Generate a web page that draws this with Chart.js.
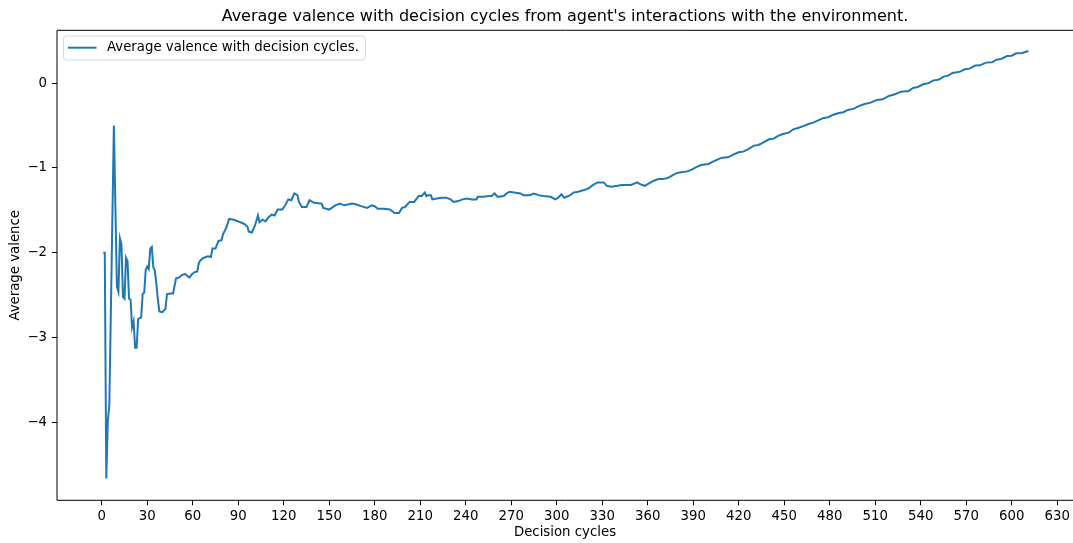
<!DOCTYPE html>
<html>
<head>
<meta charset="utf-8">
<title>Average valence with decision cycles</title>
<script src="https://cdn.jsdelivr.net/npm/chart.js@4.4.1/dist/chart.umd.min.js"></script>
<style>
  html, body { margin: 0; padding: 0; background: #ffffff; }
  #wrap { position: relative; width: 1073px; height: 543px; }
</style>
</head>
<body>
<div id="wrap"><canvas id="chart" width="1073" height="543"></canvas></div>
<script>
// Decision cycle numbers and the running average valence at each of them
const cycles = [
  1, 2, 3, 4, 5, 6, 7, 8, 9, 10, 11, 12, 13, 14, 15, 16, 17, 18, 19, 20,
  21, 22, 23, 24, 25, 26, 27, 28, 29, 30, 31, 32, 33, 34, 35, 36, 37, 38, 40, 42,
  43, 45, 47, 49, 51, 53, 55, 57, 58, 59, 61, 63, 64, 65, 67, 70, 72, 73, 75, 77,
  79, 80, 82, 84, 87, 90, 94, 96, 97, 99, 101, 103, 104, 106, 108, 110, 112, 114, 116, 119,
  121, 123, 125, 127, 129, 130, 132, 135, 137, 140, 145, 146, 150, 154, 157, 160, 165, 168, 171, 175,
  178, 180, 182, 186, 190, 193, 196, 198, 200, 203, 206, 209, 211, 213, 214, 215, 217, 218, 221, 224,
  227, 230, 232, 235, 238, 241, 244, 247, 248, 252, 255, 257, 259, 261, 265, 267, 269, 272, 276, 278,
  282, 285, 288, 291, 296, 299, 301, 303, 305, 309, 311, 314, 318, 321, 324, 327, 331, 333, 336, 340,
  343, 346, 349, 353, 355, 358, 360, 364, 367, 370, 373, 376, 379, 382, 386, 389, 392, 395, 400, 403,
  407, 409, 413, 416, 420, 423, 426, 430, 433, 436, 440, 443, 446, 449, 453, 456, 459, 463, 466, 469,
  472, 476, 479, 482, 486, 489, 492, 496, 499, 503, 507, 511, 515, 519, 523, 527, 532, 535, 538, 542,
  545, 548, 552, 555, 558, 561, 566, 569, 572, 576, 579, 583, 587, 590, 593, 597, 600, 603, 607, 611
];
const valence = [
  -2.00, -2.00, -4.66, -3.98, -3.80, -2.70, -1.60, -0.50, -1.45, -2.40, -2.46, -1.83, -1.90, -2.52, -2.54, -2.06, -2.10, -2.54, -2.55, -2.88,
  -2.81, -3.12, -3.12, -2.78, -2.77, -2.76, -2.48, -2.47, -2.20, -2.16, -2.19, -1.95, -1.93, -2.17, -2.21, -2.36, -2.55, -2.69, -2.70, -2.66,
  -2.49, -2.48, -2.48, -2.30, -2.29, -2.26, -2.25, -2.28, -2.29, -2.26, -2.23, -2.22, -2.12, -2.09, -2.06, -2.04, -2.05, -1.95, -1.95, -1.86,
  -1.85, -1.78, -1.71, -1.60, -1.61, -1.63, -1.66, -1.69, -1.75, -1.76, -1.68, -1.56, -1.64, -1.61, -1.63, -1.58, -1.55, -1.56, -1.49, -1.49,
  -1.44, -1.37, -1.38, -1.30, -1.32, -1.40, -1.46, -1.46, -1.38, -1.41, -1.42, -1.47, -1.49, -1.44, -1.42, -1.44, -1.42, -1.43, -1.45, -1.47,
  -1.44, -1.45, -1.48, -1.48, -1.49, -1.53, -1.53, -1.47, -1.46, -1.40, -1.40, -1.33, -1.33, -1.29, -1.33, -1.32, -1.32, -1.37, -1.36, -1.35,
  -1.35, -1.37, -1.40, -1.39, -1.37, -1.36, -1.37, -1.37, -1.34, -1.34, -1.33, -1.33, -1.30, -1.34, -1.33, -1.30, -1.28, -1.29, -1.30, -1.32,
  -1.32, -1.30, -1.32, -1.33, -1.34, -1.37, -1.35, -1.31, -1.35, -1.32, -1.29, -1.28, -1.26, -1.24, -1.20, -1.17, -1.17, -1.21, -1.22, -1.21,
  -1.20, -1.20, -1.20, -1.17, -1.19, -1.21, -1.19, -1.15, -1.13, -1.13, -1.12, -1.09, -1.06, -1.05, -1.04, -1.02, -0.99, -0.965, -0.952, -0.925,
  -0.893, -0.878, -0.874, -0.846, -0.815, -0.807, -0.780, -0.736, -0.728, -0.701, -0.662, -0.654, -0.622, -0.599, -0.583, -0.544, -0.528, -0.504, -0.481, -0.465,
  -0.442, -0.410, -0.402, -0.375, -0.351, -0.343, -0.316, -0.300, -0.270, -0.245, -0.230, -0.198, -0.190, -0.151, -0.131, -0.100, -0.092, -0.057, -0.045, -0.010,
  -0.002, 0.030, 0.042, 0.077, 0.089, 0.120, 0.136, 0.163, 0.171, 0.207, 0.210, 0.242, 0.246, 0.277, 0.285, 0.320, 0.324, 0.352, 0.356, 0.379
];

// Axis ticks
const xTicks = [0, 30, 60, 90, 120, 150, 180, 210, 240, 270, 300, 330, 360, 390, 420, 450, 480, 510, 540, 570, 600, 630];
const yTicks = [0, -1, -2, -3, -4];

const titleText = "Average valence with decision cycles from agent's interactions with the environment.";
const seriesLabel = 'Average valence with decision cycles.';
const xTitle = 'Decision cycles';
const yTitle = 'Average valence';

const FONT = "'DejaVu Sans', 'Liberation Sans', sans-serif";
const TEXT_SIZE = 13.3;
const LINE_COLOR = '#1f77b4';

const points = cycles.map((c, i) => ({ x: c, y: valence[i] }));

// Frame (left, bottom, top spines), title above the plot and the legend box
const decorations = {
  id: 'decorations',
  afterDraw(chart) {
    const ctx = chart.ctx;
    const a = chart.chartArea;
    ctx.save();
    // spines
    ctx.strokeStyle = '#000000';
    ctx.lineWidth = 1;
    ctx.beginPath();
    ctx.moveTo(a.left, a.top);
    ctx.lineTo(a.right + 2, a.top);
    ctx.moveTo(a.left, a.top);
    ctx.lineTo(a.left, a.bottom);
    ctx.lineTo(a.right + 2, a.bottom);
    ctx.stroke();

    // title centred over the plot area
    ctx.fillStyle = '#000000';
    ctx.font = '16px ' + FONT;
    ctx.textAlign = 'center';
    ctx.textBaseline = 'middle';
    ctx.fillText(titleText, (a.left + a.right) / 2, 17);

    // legend
    const bx = 63.5, by = 36, bw = 302, bh = 24, r = 3;
    ctx.beginPath();
    ctx.moveTo(bx + r, by);
    ctx.lineTo(bx + bw - r, by);
    ctx.arcTo(bx + bw, by, bx + bw, by + r, r);
    ctx.lineTo(bx + bw, by + bh - r);
    ctx.arcTo(bx + bw, by + bh, bx + bw - r, by + bh, r);
    ctx.lineTo(bx + r, by + bh);
    ctx.arcTo(bx, by + bh, bx, by + bh - r, r);
    ctx.lineTo(bx, by + r);
    ctx.arcTo(bx, by, bx + r, by, r);
    ctx.closePath();
    ctx.fillStyle = 'rgba(255,255,255,0.8)';
    ctx.fill();
    ctx.strokeStyle = '#d6d6d6';
    ctx.lineWidth = 1;
    ctx.stroke();

    ctx.strokeStyle = LINE_COLOR;
    ctx.lineWidth = 2;
    ctx.beginPath();
    ctx.moveTo(68, 47.7);
    ctx.lineTo(96.5, 47.7);
    ctx.stroke();

    ctx.fillStyle = '#000000';
    ctx.font = TEXT_SIZE + 'px ' + FONT;
    ctx.textAlign = 'left';
    ctx.textBaseline = 'middle';
    ctx.fillText(chart.data.datasets[0].label, 107, 48);
    ctx.restore();
  }
};

new Chart(document.getElementById('chart'), {
  type: 'line',
  data: {
    datasets: [{
      label: seriesLabel,
      data: points,
      borderColor: LINE_COLOR,
      borderWidth: 2,
      pointRadius: 0,
      fill: false,
      tension: 0
    }]
  },
  options: {
    responsive: false,
    animation: false,
    devicePixelRatio: 1,
    layout: { padding: { top: 30.3, right: 0, bottom: 0, left: 0 } },
    plugins: {
      legend: { display: false },
      title: { display: false },
      tooltip: { enabled: false }
    },
    scales: {
      x: {
        type: 'linear',
        min: -29.5,
        max: 640.4,
        afterFit(scale) { scale.height = 42.7; },
        afterBuildTicks(scale) { scale.ticks = xTicks.map(v => ({ value: v })); },
        border: { display: false },
        grid: { drawOnChartArea: false, drawTicks: true, tickLength: 5, color: '#000000', tickWidth: 1 },
        ticks: {
          color: '#000000',
          padding: 3,
          maxRotation: 0,
          autoSkip: false,
          font: { family: FONT, size: TEXT_SIZE },
          callback: v => String(v)
        },
        title: {
          display: true,
          text: xTitle,
          color: '#000000',
          padding: { top: 2, bottom: 2 },
          font: { family: FONT, size: TEXT_SIZE }
        }
      },
      y: {
        type: 'linear',
        min: -4.917,
        max: 0.623,
        afterFit(scale) { scale.width = 57; },
        afterBuildTicks(scale) { scale.ticks = yTicks.map(v => ({ value: v })); },
        border: { display: false },
        grid: { drawOnChartArea: false, drawTicks: true, tickLength: 5, color: '#000000', tickWidth: 1 },
        ticks: {
          color: '#000000',
          padding: 5,
          autoSkip: false,
          font: { family: FONT, size: TEXT_SIZE },
          callback: v => (v < 0 ? '\u2212' + Math.abs(v) : String(v))
        },
        title: {
          display: true,
          text: yTitle,
          color: '#000000',
          padding: { top: 8, bottom: 8 },
          font: { family: FONT, size: TEXT_SIZE }
        }
      }
    }
  },
  plugins: [decorations]
});
</script>
</body>
</html>
